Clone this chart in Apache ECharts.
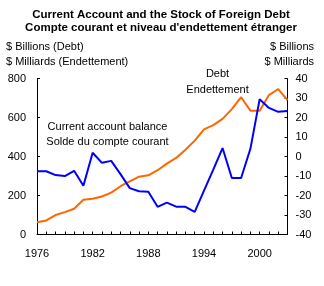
<!DOCTYPE html>
<html><head><meta charset="utf-8">
<script src="https://cdn.jsdelivr.net/npm/echarts@6/dist/echarts.min.js"></script>
<style>html,body{margin:0;padding:0;background:#fff}#c{width:324px;height:286px}</style>
</head><body><div id="c"></div>
<script>
const years = [1976,1977,1978,1979,1980,1981,1982,1983,1984,1985,1986,1987,1988,1989,1990,1991,1992,1993,1994,1995,1996,1997,1998,1999,2000,2001,2002,2003];
const debt = [63,72,100,115,132,178,184,195,215,248,273,297,304,330,364,393,435,482,540,562,594,644,705,636,636,716,747,690];
const currentAccount = [-7.5,-7.5,-9.5,-10,-7.3,-15,2,-3.2,-2.2,-9,-16.2,-17.8,-18,-25.8,-23.6,-25.7,-25.8,-28.4,-17.5,-6.7,4.4,-11,-11,4,29.5,25,23,23.4];
const xLabelYears = [1976,1982,1988,1994,2000];
const font = 'Liberation Sans, Arial, sans-serif';
const chart = echarts.init(document.getElementById('c'), null, {renderer:'canvas'});
const txt = (x,y,t,align,size,weight) => ({type:'text', x:x, y:y, style:{text:t, textAlign:align, textVerticalAlign:'middle', font:(weight||'normal')+' '+(size||11)+'px '+font, fill:'#000'}});
chart.setOption({
  animation:false,
  backgroundColor:'#fff',
  grid:{left:37, right:36.5, top:78.7, bottom:51.5, containLabel:false},
  xAxis:{type:'value', min:1976, max:2003, interval:1,
    axisLine:{lineStyle:{color:'#000', width:1}},
    axisTick:{inside:true, length:3, lineStyle:{color:'#000'}},
    splitLine:{show:false},
    axisLabel:{margin:14, color:'#000', fontSize:11, fontFamily:font,
      formatter:v => xLabelYears.indexOf(v) >= 0 ? String(v) : ''}},
  yAxis:[
    {type:'value', min:0, max:800, interval:200, position:'left',
      axisLine:{show:true, lineStyle:{color:'#000'}},
      axisTick:{show:true, inside:true, length:3, lineStyle:{color:'#000'}},
      splitLine:{show:false},
      axisLabel:{margin:11, color:'#000', fontSize:11, fontFamily:font}},
    {type:'value', min:-40, max:40, interval:10, position:'right',
      axisLine:{show:true, lineStyle:{color:'#000'}},
      axisTick:{show:true, inside:true, length:3, lineStyle:{color:'#000'}},
      splitLine:{show:false},
      axisLabel:{margin:8, color:'#000', fontSize:11, fontFamily:font}}
  ],
  series:[
    {type:'line', yAxisIndex:0, data:years.map((y,i)=>[y,debt[i]]), symbol:'none',
      lineStyle:{color:'#FF6600', width:2}},
    {type:'line', yAxisIndex:1, data:years.map((y,i)=>[y,currentAccount[i]]), symbol:'none',
      lineStyle:{color:'#0000FF', width:2}}
  ],
  graphic:[
    txt(161,15,'Current Account and the Stock of Foreign Debt','center',11.5,'bold'),
    txt(161,28,"Compte courant et niveau d'endettement étranger",'center',11.5,'bold'),
    txt(6,47,'$ Billions (Debt)','left'),
    txt(6,62,'$ Milliards (Endettement)','left'),
    txt(314,47,'$ Billions','right'),
    txt(314,62,'$ Milliards','right'),
    txt(217.5,74,'Debt','center'),
    txt(217.5,90,'Endettement','center'),
    txt(107.5,127,'Current account balance','center'),
    txt(107.5,142,'Solde du compte courant','center')
  ]
});
</script></body></html>
